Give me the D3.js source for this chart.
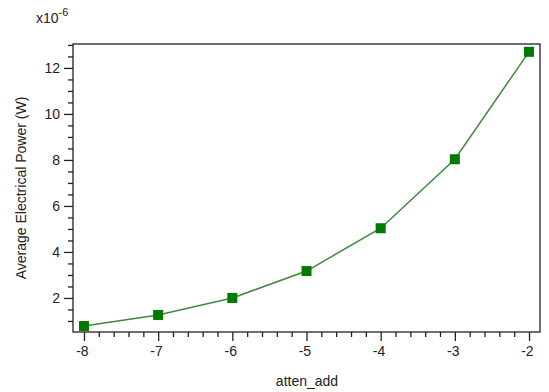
<!DOCTYPE html>
<html><head><meta charset="utf-8">
<script src="https://cdn.jsdelivr.net/npm/d3@7"></script>
<style>body{margin:0;background:#fff}svg{display:block}text{font-family:"Liberation Sans",Arial,sans-serif;fill:#222}</style>
</head><body><svg id="c" width="549" height="392"></svg>
<script>
const xValues = [-8, -7, -6, -5, -4, -3, -2];
const powerValues = [0.78, 1.26, 2.0, 3.17, 5.03, 8.03, 12.7];
const xTickLabels = [-8, -7, -6, -5, -4, -3, -2];
const yTickLabels = [2, 4, 6, 8, 10, 12];

const svg = d3.select("#c");
const L = 73, R = 540, T = 44, B = 332;
const x = d3.scaleLinear().domain([-8.148, -1.852]).range([L, R]);
const y = d3.scaleLinear().domain([0.52, 13.04]).range([B, T]);

const fmt = d => String(d);
const xMinor = d3.range(-8, -1.85, 0.2).filter(v => Math.abs(v - Math.round(v)) > 1e-6);
const yMinor = d3.range(1, 13.01, 0.5).filter(v => !yTickLabels.includes(v));

const gx = svg.append("g").attr("transform", `translate(0,${B})`);
gx.call(d3.axisBottom(x).tickValues(xTickLabels).tickSize(9).tickSizeOuter(0).tickPadding(5).tickFormat(fmt));
gx.append("g").call(d3.axisBottom(x).tickValues(xMinor).tickSize(5).tickSizeOuter(0).tickFormat(""));
const gy = svg.append("g").attr("transform", `translate(${L},0)`);
gy.call(d3.axisLeft(y).tickValues(yTickLabels).tickSize(9).tickSizeOuter(0).tickPadding(4).tickFormat(fmt));
gy.append("g").call(d3.axisLeft(y).tickValues(yMinor).tickSize(5).tickSizeOuter(0).tickFormat(""));
svg.selectAll(".domain").remove();
svg.selectAll(".tick line").attr("stroke", "#222").attr("stroke-width", 1.3);
svg.selectAll(".tick text").attr("font-size", 14).attr("fill", "#222").style("font-family", '"Liberation Sans",Arial,sans-serif');
gx.selectAll(".tick text").attr("dx", "-0.15em");

svg.append("rect").attr("x", L).attr("y", T).attr("width", R - L).attr("height", B - T)
  .attr("fill", "none").attr("stroke", "#222").attr("stroke-width", 1.3);

const line = d3.line().x((d, i) => x(xValues[i])).y(d => y(d));
svg.append("path").datum(powerValues).attr("d", line).attr("fill", "none")
  .attr("stroke", "#3e8a3e").attr("stroke-width", 1.5);
svg.selectAll("rect.m").data(powerValues).enter().append("rect").attr("class", "m")
  .attr("x", (d, i) => x(xValues[i]) - 5).attr("y", d => y(d) - 5)
  .attr("width", 10).attr("height", 10).attr("fill", "#007a00");

svg.append("text").attr("x", 307).attr("y", 386).attr("text-anchor", "middle").attr("font-size", 14).text("atten_add");
svg.append("text").attr("transform", "translate(26,188) rotate(-90)").attr("text-anchor", "middle").attr("font-size", 14).text("Average Electrical Power (W)");
const ex = svg.append("text").attr("x", 36).attr("y", 23).attr("font-size", 14);
ex.append("tspan").text("x10");
ex.append("tspan").attr("dy", -7).attr("font-size", 11).text("-6");
</script></body></html>
